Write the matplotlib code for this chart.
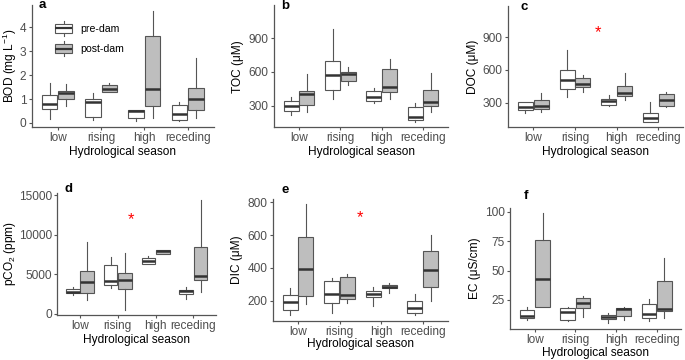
import matplotlib
matplotlib.use("Agg")
import matplotlib.pyplot as plt
from matplotlib.legend_handler import HandlerBase
from matplotlib.patches import Rectangle
from matplotlib.lines import Line2D

plt.rcParams['font.family'] = ['Liberation Sans', 'DejaVu Sans']
plt.rcParams['mathtext.fontset'] = 'custom'
plt.rcParams['mathtext.rm'] = 'Liberation Sans'
plt.rcParams['mathtext.it'] = 'Liberation Sans:italic'
plt.rcParams['mathtext.bf'] = 'Liberation Sans:bold'

# ---------------- data (whislo, q1, median, q3, whishi) ----------------
seasons = ["low", "rising", "high", "receding"]
groups = ["pre-dam", "post-dam"]

bod_pre = [[0.18, 0.60, 0.78, 1.16, 1.66], [0.11, 0.25, 0.87, 1.00, 1.26],
           [0.08, 0.22, 0.49, 0.53, 0.53], [0.07, 0.11, 0.36, 0.73, 0.88]]
bod_post = [[0.70, 0.98, 1.26, 1.34, 1.62], [1.29, 1.29, 1.41, 1.60, 1.69],
            [0.22, 0.70, 1.43, 3.63, 4.70], [0.22, 0.53, 1.02, 1.44, 2.70]]
bod_ticks = [0, 1, 2, 3, 4]

toc_pre = [[217, 255, 297, 345, 380], [356, 440, 570, 698, 980],
           [327, 342, 380, 431, 455], [154, 172, 202, 285, 321]]
toc_post = [[247, 306, 404, 434, 582], [484, 523, 582, 603, 648],
            [356, 422, 463, 624, 713], [247, 297, 336, 440, 588]]
toc_ticks = [300, 600, 900]

doc_pre = [[208, 233, 257, 309, 309], [355, 422, 508, 600, 784],
           [269, 279, 315, 334, 370], [119, 126, 156, 202, 306]]
doc_post = [[211, 245, 269, 324, 386], [401, 447, 471, 527, 557],
            [324, 361, 386, 453, 569], [257, 269, 324, 380, 401]]
doc_ticks = [300, 600, 900]

pco2_pre = [[2352, 2604, 2730, 3108, 3360], [3234, 3612, 4074, 6090, 7140],
            [6258, 6300, 6678, 7014, 7308], [1848, 2478, 2814, 3024, 3360]]
pco2_post = [[1680, 2604, 3948, 5334, 9114], [504, 3150, 4284, 5124, 7728],
             [7560, 7560, 7938, 8064, 8064], [2688, 4200, 4788, 8400, 14364]]
pco2_ticks = [0, 5000, 10000, 15000]

dic_pre = [[113, 143, 190, 235, 279], [123, 188, 241, 320, 336],
           [169, 224, 241, 261, 285], [113, 127, 157, 200, 241]]
dic_post = [[178, 228, 393, 586, 788], [184, 208, 235, 342, 361],
            [245, 275, 285, 298, 306], [200, 285, 387, 505, 601]]
dic_ticks = [200, 400, 600, 800]

ec_pre = [[7.9, 9.3, 11.3, 16.5, 19.3], [7.3, 7.9, 14.7, 17.9, 19.3],
          [5.6, 8.5, 10.8, 12.2, 13.6], [7.3, 9.3, 13.0, 21.3, 25.9]]
ec_post = [[18.7, 18.7, 43.0, 75.7, 99.0], [10.8, 18.2, 22.2, 26.4, 28.4],
           [7.9, 11.3, 17.0, 18.4, 18.7], [9.3, 15.9, 17.3, 40.7, 60.6]]
ec_ticks = [25, 50, 75, 100]

# significance markers (x position in season units, y value)
star_c = (2.55, 992)
star_d = (2.35, 12600)
star_e = (2.48, 743)

# ---------------- styling ----------------
W, H = 685, 360
fig = plt.figure(figsize=(W / 100, H / 100), dpi=100)

FILL = {"pre-dam": "white", "post-dam": "#BEBEBE"}
EDGE = "#555555"
MED = "#333333"
TICKC = "#555555"
FS = 8.6


def make_ax(left, right, top, bottom):
    return fig.add_axes([left / W, 1 - bottom / H, (right - left) / W, (bottom - top) / H])


def boxes(ax, pre, post):
    for data, off, g in ((pre, -0.19, "pre-dam"), (post, 0.19, "post-dam")):
        stats = [dict(whislo=d[0], q1=d[1], med=d[2], q3=d[3], whishi=d[4]) for d in data]
        pos = [i + 1 + off for i in range(len(data))]
        ax.bxp(stats, positions=pos, widths=0.36, patch_artist=True,
               showcaps=False, showfliers=False,
               boxprops=dict(facecolor=FILL[g], edgecolor=EDGE, linewidth=0.8),
               whiskerprops=dict(color=EDGE, linewidth=0.8),
               medianprops=dict(color=MED, linewidth=1.8, solid_capstyle='butt'))


def style(ax, ylim, yticks, ylabel, letter, letter_xy, ylab_x, xlab_y):
    ax.set_xlim(0.4, 4.6)
    ax.set_ylim(*ylim)
    ax.set_xticks(range(1, 5))
    ax.set_xticklabels(seasons)
    ax.set_yticks(yticks)
    for s in ("top", "right"):
        ax.spines[s].set_visible(False)
    for s in ("left", "bottom"):
        ax.spines[s].set_color("#555555")
        ax.spines[s].set_linewidth(0.9)
    ax.tick_params(axis="both", colors=TICKC, labelcolor="#4D4D4D", labelsize=FS,
                   length=2.5, width=0.8, pad=1.5)
    ax.tick_params(axis="x", pad=1.2)
    ax.set_facecolor("none")
    bb = ax.get_position()
    ax.set_ylabel(ylabel, fontsize=FS, color="black")
    ax.yaxis.label.set_va("center")
    ax.yaxis.set_label_coords(ylab_x / W, bb.y0 + bb.height / 2, transform=fig.transFigure)
    ax.set_xlabel("Hydrological season", fontsize=FS, color="black")
    ax.xaxis.label.set_va("center")
    ax.xaxis.set_label_coords(bb.x0 + bb.width / 2, 1 - xlab_y / H, transform=fig.transFigure)
    fig.text(letter_xy[0] / W, 1 - letter_xy[1] / H, letter, fontsize=9.5,
             fontweight="bold", ha="center", va="center")


def star(ax, xy):
    ax.annotate("*", xy=xy, xytext=(0, -4), textcoords="offset points",
                color="red", fontsize=12, ha="center", va="center")


class HandlerBox(HandlerBase):
    def __init__(self, fill):
        super().__init__()
        self.fill = fill

    def create_artists(self, legend, orig_handle, xdescent, ydescent, width, height,
                       fontsize, trans):
        x0, y0 = -xdescent, -ydescent
        cx = x0 + width / 2
        b0, b1 = y0 + height * 0.2, y0 + height * 0.8
        arts = [
            Line2D([cx, cx], [y0, b0], color=EDGE, lw=0.8, transform=trans),
            Line2D([cx, cx], [b1, y0 + height], color=EDGE, lw=0.8, transform=trans),
            Rectangle((x0, b0), width, b1 - b0, facecolor=self.fill, edgecolor=EDGE,
                      lw=0.8, transform=trans),
            Line2D([x0, x0 + width], [y0 + height / 2] * 2, color=MED, lw=1.6,
                   transform=trans, solid_capstyle='butt'),
        ]
        return arts


# ---------------- panels ----------------
ax_a = make_ax(32, 213.5, 5, 127)
boxes(ax_a, bod_pre, bod_post)
style(ax_a, (-0.17, 4.93), bod_ticks, "BOD (mg L$^{-1}$)", "a", (42, 5), 10, 151.5)
h_pre = Rectangle((0, 0), 1, 1)
h_post = Rectangle((0, 0), 1, 1)
ax_a.legend([h_pre, h_post], groups, loc="upper left",
            bbox_to_anchor=((55 - 32) / 181.5, (127 - 21) / 122), frameon=False,
            fontsize=7.6, borderpad=0, borderaxespad=0, handlelength=1.65,
            handleheight=1.75, handletextpad=0.75, labelspacing=0.55,
            handler_map={h_pre: HandlerBox("white"), h_post: HandlerBox("#BEBEBE")})

ax_b = make_ax(274.3, 447.8, 5, 127.3)
boxes(ax_b, toc_pre, toc_post)
style(ax_b, (107, 1197), toc_ticks, "TOC (μM)", "b", (285, 6), 238, 151.5)

ax_c = make_ax(508.3, 683.3, 6, 127.3)
boxes(ax_c, doc_pre, doc_post)
style(ax_c, (73, 1188), doc_ticks, "DOC (μM)", "c", (524.5, 7), 473, 151.5)
star(ax_c, star_c)

ax_d = make_ax(57.3, 216, 192.7, 315.2)
boxes(ax_d, pco2_pre, pco2_post)
style(ax_d, (-210, 15300), pco2_ticks, "pCO$_2$ (ppm)", "d", (68.5, 189), 10, 339.5)
star(ax_d, star_d)

ax_e = make_ax(273, 447.7, 199.3, 320.7)
boxes(ax_e, dic_pre, dic_post)
style(ax_e, (78, 818), dic_ticks, "DIC (μM)", "e", (285, 190), 237, 344.5)
star(ax_e, star_e)

ax_f = make_ax(510.5, 681, 208.3, 329)
boxes(ax_f, ec_pre, ec_post)
style(ax_f, (0.2, 103), ec_ticks, "EC (μS/cm)", "f", (525.5, 196), 475, 353)

fig.savefig("out.png", dpi=100, facecolor="white")
